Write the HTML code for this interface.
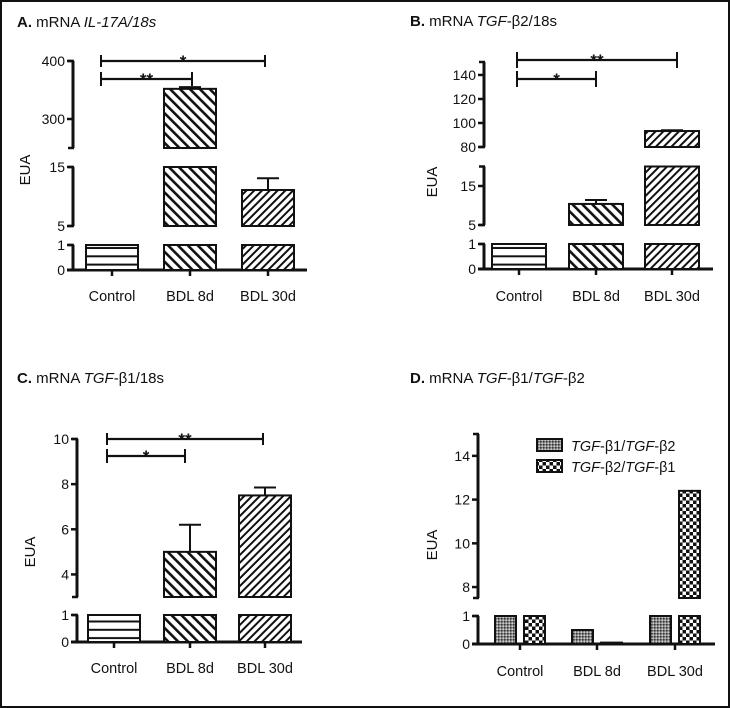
<!DOCTYPE html>
<html><head><meta charset="utf-8"><style>
html,body{margin:0;padding:0;background:#fff}
svg{display:block}
text{font-family:"Liberation Sans",sans-serif;fill:#111}
</style></head><body>
<svg id="fig" width="730" height="708" viewBox="0 0 730 708" xmlns="http://www.w3.org/2000/svg">
<defs>
<pattern id="pH" patternUnits="userSpaceOnUse" width="8" height="8.3"><rect width="8" height="8.3" fill="#fff"/><rect y="6.3" width="8" height="2.4" fill="#111"/></pattern>
<pattern id="pB" patternUnits="userSpaceOnUse" width="7" height="7" patternTransform="rotate(-45)"><rect width="7" height="7" fill="#fff"/><rect width="2.6" height="7" fill="#111"/></pattern>
<pattern id="pF" patternUnits="userSpaceOnUse" width="5.5" height="5.5" patternTransform="rotate(45)"><rect width="5.5" height="5.5" fill="#fff"/><rect width="2" height="5.5" fill="#111"/></pattern>
<pattern id="pG" patternUnits="userSpaceOnUse" width="3" height="3"><rect width="3" height="3" fill="#888"/><rect width="1.5" height="1.5" fill="#333"/><rect x="1.5" y="1.5" width="1.5" height="1.5" fill="#ccc"/></pattern>
<pattern id="pC" patternUnits="userSpaceOnUse" width="7" height="7"><rect width="7" height="7" fill="#111"/><rect width="3.5" height="3.5" fill="#fff"/><rect x="3.5" y="3.5" width="3.5" height="3.5" fill="#fff"/></pattern>
</defs>
<rect x="1" y="1" width="728" height="706" fill="none" stroke="#111" stroke-width="2"/>
<g id="root"></g>
</svg>
<script>
// Panel A data
const catsA = ["Control","BDL 8d","BDL 30d"];
const valsA = [1, 352, 11.1];
const errA = [null, 355, 13.1];
// Panel B data
const catsB = ["Control","BDL 8d","BDL 30d"];
const valsB = [1, 10.4, 93.3];
const errB = [null, 11.4, 94];
// Panel C data
const catsC = ["Control","BDL 8d","BDL 30d"];
const valsC = [1, 5.0, 7.5];
const errC = [null, 6.2, 7.85];
// Panel D data
const catsD = ["Control","BDL 8d","BDL 30d"];
const valsD1 = [1, 0.5, 1];
const valsD2 = [1, 0.05, 12.4];
const seriesD = ["TGF-β1/TGF-β2","TGF-β2/TGF-β1"];
const ticksA = [[0,1],[5,15],[300,400]];
const ticksB = [[0,1],[5,15],[80,100,120,140]];
const ticksC = [[0,1],[4,6,8,10]];
const ticksD = [[0,1],[8,10,12,14]];

const NS="http://www.w3.org/2000/svg";
const root=document.getElementById('root');
function el(tag,attrs,parent,txt){const e=document.createElementNS(NS,tag);for(const k in attrs)e.setAttribute(k,attrs[k]);if(txt!==undefined)e.textContent=txt;(parent||root).appendChild(e);return e;}

function makeScale(segs){
  return function(v){
    for(const s of segs){ if(v>=s[0]-1e-9 && v<=s[1]+1e-9){return s[2]+(v-s[0])*(s[3]-s[2])/(s[1]-s[0]);} }
    const s=segs[segs.length-1];return s[2]+(v-s[0])*(s[3]-s[2])/(s[1]-s[0]);
  };
}
function axis(g,ax,segs,ticks,xEnd,tickXs,cats,labY,y0){
  const sc=makeScale(segs);
  segs.forEach((s,i)=>{
    const l=el('line',{x1:ax,x2:ax,y1:s[2],y2:s[3],stroke:'#111','stroke-width':3},g);
    
    
    el('line',{x1:ax-5,x2:ax+1,y1:s[3],y2:s[3],stroke:'#111','stroke-width':2.5},g);
    if(i>0) el('line',{x1:ax-5,x2:ax+1,y1:s[2],y2:s[2],stroke:'#111','stroke-width':2.5},g);
    ticks[i].forEach(t=>{
      const y=sc(t);
      el('line',{x1:ax-6,x2:ax,y1:y,y2:y,stroke:'#111','stroke-width':2.5},g);
      const tx=el('text',{x:ax-8,y:y+5,'text-anchor':'end','font-size':14},g,String(t));
      
      
    });
  });
  const xa=el('line',{x1:ax-6,x2:xEnd,y1:y0,y2:y0,stroke:'#111','stroke-width':3},g);
  
  
  tickXs.forEach((x,i)=>{
    el('line',{x1:x,x2:x,y1:y0,y2:y0+6,stroke:'#111','stroke-width':2.5},g);
    const t=el('text',{x:x,y:labY,'text-anchor':'middle','font-size':14.5},g,cats[i]);
    
    
  });
  return sc;
}
function bar(g,segs,sc,x,w,v,fill,err){
  segs.forEach(s=>{
    const lo=Math.max(s[0],0), hi=Math.min(s[1],v);
    if(hi>lo){
      const y1=sc(hi), y2=sc(lo);
      const r=el('rect',{x:x,y:y1,width:w,height:y2-y1,fill:fill,stroke:'#111','stroke-width':2},g);
      
      
    }
  });
  if(err!=null){
    const cx=x+w/2, yt=sc(err);
    el('line',{x1:cx,x2:cx,y1:sc(v),y2:yt,stroke:'#111','stroke-width':2},g);
    el('line',{x1:cx-11,x2:cx+11,y1:yt,y2:yt,stroke:'#111','stroke-width':2},g);
  }
}
function bracket(g,x1,x2,y,label,h){
  const b=el('g',{},g);
  
  
  el('line',{x1:x1,x2:x2,y1:y,y2:y,stroke:'#111','stroke-width':2.2},b);
  el('line',{x1:x1,x2:x1,y1:y-h,y2:y+h,stroke:'#111','stroke-width':2},b);
  el('line',{x1:x2,x2:x2,y1:y-h,y2:y+h,stroke:'#111','stroke-width':2},b);
  el('text',{x:(x1+x2)/2,y:y+6,'text-anchor':'middle','font-size':17,'font-weight':'bold'},b,label);
}
function title(g,x,y,letter,parts){
  const t=el('text',{x:x,y:y,'font-size':15},g);
  
  
  el('tspan',{'font-weight':'bold'},t,letter+' ');
  parts.forEach(p=>el('tspan',p[1]?{'font-style':'italic'}:{},t,p[0]));
}
function ylabel(g,x,y){
  const t=el('text',{x:x,y:y,'text-anchor':'middle','font-size':15,transform:`rotate(-90 ${x} ${y})`},g,'EUA');
  
  
}
const fills=['url(#pH)','url(#pB)','url(#pF)'];

// Panel A
(function(){
  const g=el('g',{});
  title(g,17,27,'A.',[['mRNA ',0],['IL-17A/18s',1]]);
  const segs=[[0,1,270,245],[5,15,226,167],[250,400,148,61]];
  const tx=[112,190,268];
  const sc=axis(g,73,segs,ticksA,307,tx,catsA,301,270);
  ylabel(g,30,170);
  valsA.forEach((v,i)=>bar(g,segs,sc,tx[i]-26,52,v,fills[i],errA[i]));
  bracket(g,101,265,61,'*',6);
  bracket(g,101,192,79,'**',7);
})();
// Panel B
(function(){
  const g=el('g',{});
  title(g,410,26,'B.',[['mRNA ',0],['TGF',1],['-β2/18s',0]]);
  const segs=[[0,1,269,244],[5,20,225,166.5],[80,150.8,147,62]];
  const tx=[519,596,672];
  const sc=axis(g,484,segs,ticksB,713,tx,catsB,301,269);
  ylabel(g,437,182);
  valsB.forEach((v,i)=>bar(g,segs,sc,tx[i]-27,54,v,fills[i],errB[i]));
  bracket(g,517,677,60,'**',8);
  bracket(g,517,596,79,'*',8);
})();
// Panel C
(function(){
  const g=el('g',{});
  title(g,17,383,'C.',[['mRNA ',0],['TGF',1],['-β1/18s',0]]);
  const segs=[[0,1,642,615],[3,10,597,439]];
  const tx=[114,190,265];
  const sc=axis(g,77,segs,ticksC,302,tx,catsC,673,642);
  ylabel(g,35,552);
  valsC.forEach((v,i)=>bar(g,segs,sc,tx[i]-26,52,v,fills[i],errC[i]));
  bracket(g,107,263,439,'**',6);
  bracket(g,107,185,456,'*',7);
})();
// Panel D
(function(){
  const g=el('g',{});
  title(g,410,383,'D.',[['mRNA ',0],['TGF',1],['-β1/',0],['TGF',1],['-β2',0]]);
  const segs=[[0,1,644,616],[7.5,15,598,434]];
  const tx=[520,597,675];
  const sc=axis(g,478,segs,ticksD,715,tx,catsD,676,644);
  ylabel(g,437,545);
  valsD1.forEach((v,i)=>bar(g,segs,sc,tx[i]-25,21,v,'url(#pG)',null));
  valsD2.forEach((v,i)=>bar(g,segs,sc,tx[i]+4,21,v,'url(#pC)',null));
  const lfills=['url(#pG)','url(#pC)'];
  seriesD.forEach((s,i)=>{
    const lg=el('g',{},g);
    
    
    const y=439+i*21;
    el('rect',{x:537,y:y,width:25,height:12,fill:lfills[i],stroke:'#111','stroke-width':2},lg);
    const p=s.split('/');
    const t=el('text',{x:571,y:y+12,'font-size':14.5},lg);
    el('tspan',{'font-style':'italic'},t,'TGF');
    el('tspan',{},t,p[0].slice(3)+'/');
    el('tspan',{'font-style':'italic'},t,'TGF');
    el('tspan',{},t,p[1].slice(3));
  });
})();
</script>
</body></html>
